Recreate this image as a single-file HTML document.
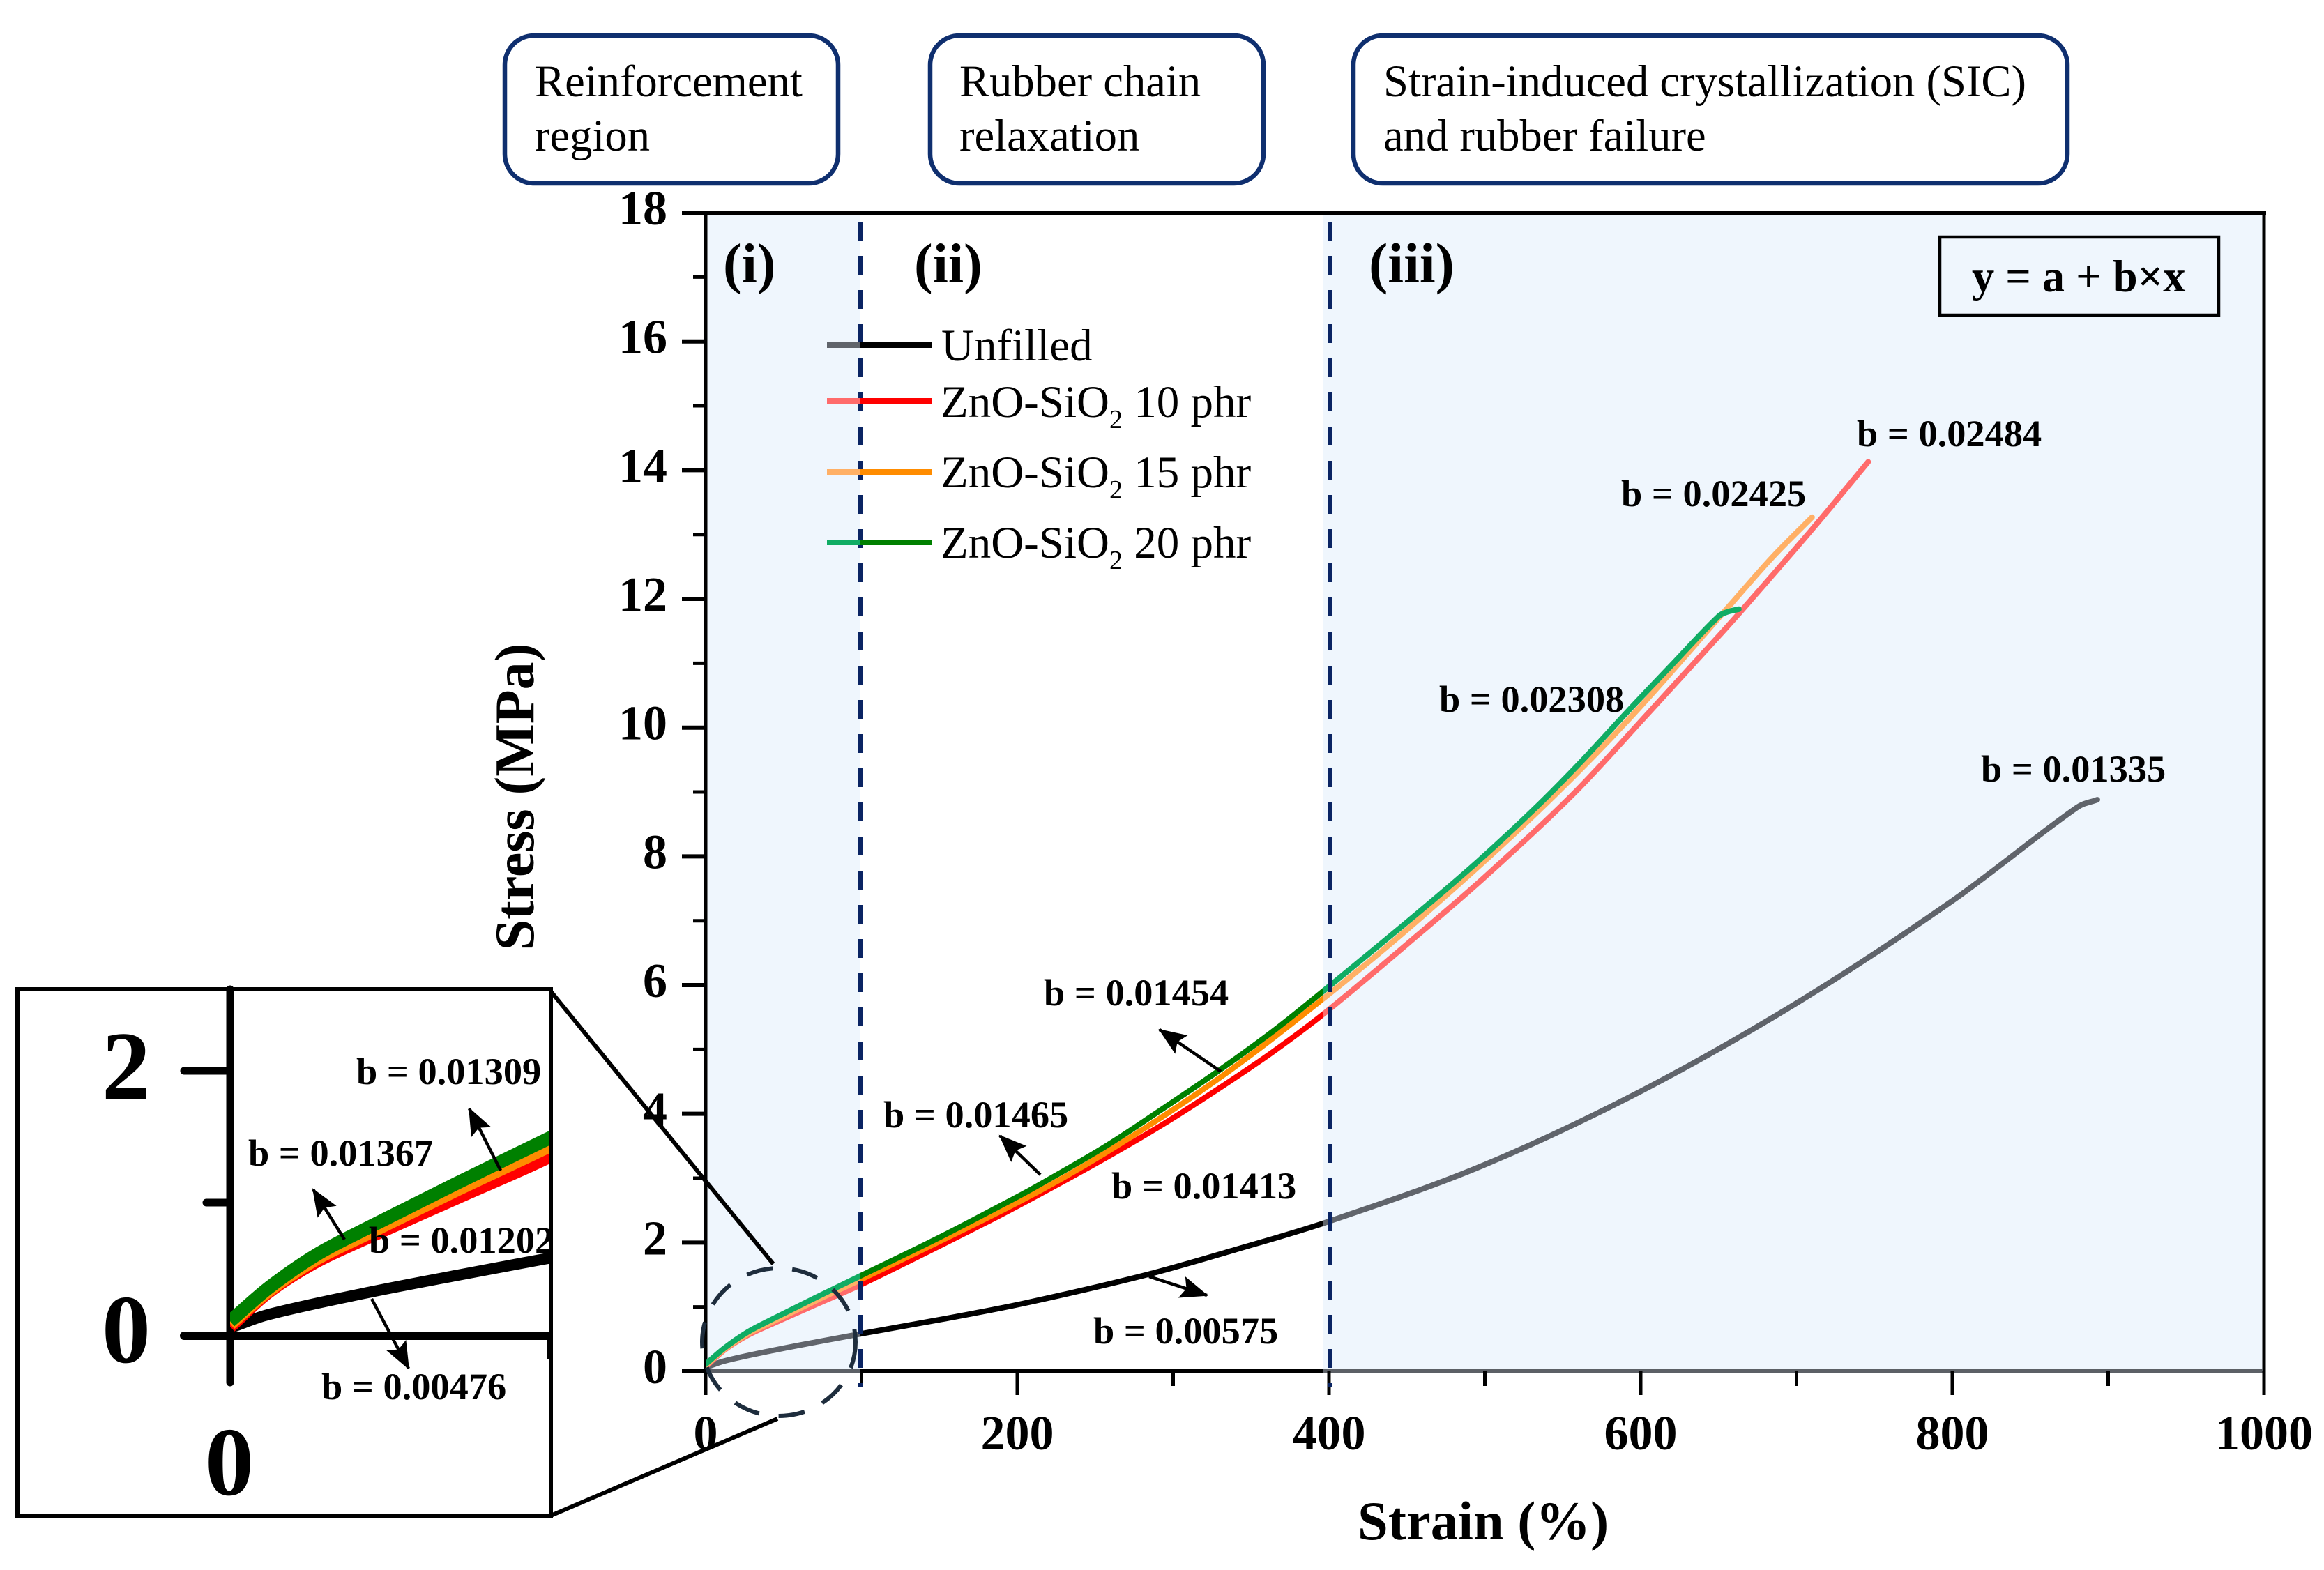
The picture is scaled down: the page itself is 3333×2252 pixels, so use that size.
<!DOCTYPE html>
<html lang="en">
<head>
<meta charset="utf-8">
<title>Stress-strain curves</title>
<style>
html,body{margin:0;padding:0;background:#fff;}
svg{display:block;}
text{font-family:"Liberation Serif",serif;fill:#000;}
.b{font-weight:bold;}
.ann{font-weight:bold;font-size:54.4px;}
.tick{font-weight:bold;font-size:70px;}
.box{fill:#fff;stroke:#0f2f6f;stroke-width:6.5;}
.box-text{font-size:64.6px;}
.leg{font-size:65px;}
</style>
</head>
<body>
<svg id="chart" width="3333" height="2252" viewBox="0 0 3333 2252" xmlns="http://www.w3.org/2000/svg">
<defs>
  <clipPath id="clip-bands"><rect x="1012" y="305" width="222" height="1662"/><rect x="1897" y="305" width="1350" height="1662"/></clipPath>
  <clipPath id="clip-white"><rect x="1234" y="305" width="663" height="1662"/></clipPath>
  <clipPath id="clip-inset"><rect x="330" y="1422" width="458" height="750"/></clipPath>
  <clipPath id="clip-inset-text"><rect x="28" y="1422" width="760" height="750"/></clipPath>
  <marker id="arrowhead" markerUnits="userSpaceOnUse" markerWidth="40" markerHeight="32" refX="38" refY="16" orient="auto"><path d="M0 0 L40 16 L0 32 L7 16 Z" fill="#000"/></marker>
</defs>

<rect x="0" y="0" width="3333" height="2252" fill="#fff"/>

<g>
  <rect class="box" x="724" y="51" width="478" height="212" rx="42"/>
  <text class="box-text" x="767" y="138">Reinforcement</text>
  <text class="box-text" x="767" y="216">region</text>
  <rect class="box" x="1334" y="51" width="478" height="212" rx="42"/>
  <text class="box-text" x="1376" y="138">Rubber chain</text>
  <text class="box-text" x="1376" y="216">relaxation</text>
  <rect class="box" x="1941" y="51" width="1024" height="212" rx="42"/>
  <text class="box-text" x="1984" y="138">Strain-induced crystallization (SIC)</text>
  <text class="box-text" x="1984" y="216">and rubber failure</text>
</g>

<g>
  <rect x="1012" y="305" width="222" height="1662" fill="#eff6fd"/>
  <rect x="1897" y="305" width="1350" height="1662" fill="#eff6fd"/>
</g>

<g id="axis-layer"></g>
<g id="series-layer"></g>

<g>
  <line x1="1234" y1="318" x2="1234" y2="1990" stroke="#0a2463" stroke-width="6" stroke-dasharray="27 22"/>
  <line x1="1907" y1="318" x2="1907" y2="1990" stroke="#0a2463" stroke-width="6" stroke-dasharray="27 22"/>
</g>

<text class="b" font-size="80" x="1037" y="405">(i)</text>
<text class="b" font-size="80" x="1311" y="405">(ii)</text>
<text class="b" font-size="82" x="1963" y="405">(iii)</text>

<g>
  <rect x="2782" y="340" width="400" height="112" fill="none" stroke="#000" stroke-width="4.5"/>
  <text class="b" font-size="64.3" x="2828" y="418">y = a + b×x</text>
</g>

<g>
  <g>
    <line x1="1186" y1="495" x2="1234" y2="495" stroke="#60646b" stroke-width="8"/>
    <line x1="1234" y1="495" x2="1336" y2="495" stroke="#000" stroke-width="8"/>
    <text class="leg" x="1350" y="517">Unfilled</text>
  </g>
  <g>
    <line x1="1186" y1="575" x2="1234" y2="575" stroke="#ff6b6b" stroke-width="8"/>
    <line x1="1234" y1="575" x2="1336" y2="575" stroke="#f00" stroke-width="8"/>
    <text class="leg" x="1349" y="598">ZnO-SiO<tspan font-size="38" dy="16">2</tspan><tspan dy="-16"> 10 phr</tspan></text>
  </g>
  <g>
    <line x1="1186" y1="677" x2="1234" y2="677" stroke="#ffb066" stroke-width="8"/>
    <line x1="1234" y1="677" x2="1336" y2="677" stroke="#ff8c00" stroke-width="8"/>
    <text class="leg" x="1349" y="699">ZnO-SiO<tspan font-size="38" dy="16">2</tspan><tspan dy="-16"> 15 phr</tspan></text>
  </g>
  <g>
    <line x1="1186" y1="778" x2="1234" y2="778" stroke="#10ac64" stroke-width="8"/>
    <line x1="1234" y1="778" x2="1336" y2="778" stroke="#008000" stroke-width="8"/>
    <text class="leg" x="1349" y="800">ZnO-SiO<tspan font-size="38" dy="16">2</tspan><tspan dy="-16"> 20 phr</tspan></text>
  </g>
</g>

<text class="b" font-size="78.6" x="1947" y="2208">Strain (%)</text>
<text class="b" font-size="80" transform="translate(765 1143) rotate(-90)" text-anchor="middle">Stress (MPa)</text>

<g>
  <text class="ann" x="2663" y="640">b = 0.02484</text>
  <text class="ann" x="2325" y="726">b = 0.02425</text>
  <text class="ann" x="2064" y="1021">b = 0.02308</text>
  <text class="ann" x="2841" y="1121">b = 0.01335</text>
  <text class="ann" x="1497" y="1442">b = 0.01454</text>
  <text class="ann" x="1267" y="1617">b = 0.01465</text>
  <text class="ann" x="1594" y="1719">b = 0.01413</text>
  <text class="ann" x="1568" y="1927">b = 0.00575</text>
  <line x1="1751" y1="1537" x2="1663" y2="1477" stroke="#000" stroke-width="4.5" marker-end="url(#arrowhead)"/>
  <line x1="1492" y1="1685" x2="1434" y2="1629" stroke="#000" stroke-width="4.5" marker-end="url(#arrowhead)"/>
  <line x1="1648" y1="1831" x2="1731" y2="1858" stroke="#000" stroke-width="4.5" marker-end="url(#arrowhead)"/>
</g>

<ellipse cx="1117" cy="1925" rx="110" ry="106" fill="none" stroke="#1e2d3d" stroke-width="6" stroke-dasharray="38 28"/>
<line x1="790" y1="1422" x2="1109" y2="1813" stroke="#000" stroke-width="6"/>
<line x1="790" y1="2174" x2="1115" y2="2035" stroke="#000" stroke-width="6"/>

<g>
  <rect x="25" y="1419" width="765" height="755" fill="#fff" stroke="#000" stroke-width="6"/>
  <line x1="330" y1="1419" x2="330" y2="1983" stroke="#000" stroke-width="11" stroke-linecap="round"/>
  <line x1="264" y1="1916" x2="787" y2="1916" stroke="#000" stroke-width="12" stroke-linecap="round"/>
  <line x1="264" y1="1536" x2="330" y2="1536" stroke="#000" stroke-width="11" stroke-linecap="round"/>
  <line x1="296" y1="1725" x2="330" y2="1725" stroke="#000" stroke-width="11" stroke-linecap="round"/>
  <line x1="787" y1="1916" x2="787" y2="1950" stroke="#000" stroke-width="6"/>
  <text class="b" font-size="140" x="146" y="1576">2</text>
  <text class="b" font-size="140" x="146" y="1954">0</text>
  <text class="b" font-size="140" x="329" y="2144" text-anchor="middle">0</text>
  <g id="inset-series-layer" clip-path="url(#clip-inset)"></g>
  <g clip-path="url(#clip-inset-text)">
    <text class="ann" x="511" y="1555">b = 0.01309</text>
    <text class="ann" x="356" y="1672">b = 0.01367</text>
    <text class="ann" x="529" y="1797">b = 0.01202</text>
    <text class="ann" x="461" y="2007">b = 0.00476</text>
    <line x1="718" y1="1679" x2="673" y2="1590" stroke="#000" stroke-width="4.5" marker-end="url(#arrowhead)"/>
    <line x1="494" y1="1778" x2="449" y2="1706" stroke="#000" stroke-width="4.5" marker-end="url(#arrowhead)"/>
    <line x1="533" y1="1863" x2="586" y2="1963" stroke="#000" stroke-width="4.5" marker-end="url(#arrowhead)"/>
  </g>
</g>

<script>
// ---- chart data ----
const yMajorTicks = [0, 2, 4, 6, 8, 10, 12, 14, 16, 18];
const yMinorTicks = [1, 3, 5, 7, 9, 11, 13, 15, 17];
const xMajorTicks = [0, 200, 400, 600, 800, 1000];
const xMinorTicks = [100, 300, 500, 700, 900];

const unfilledStrain = [0, 12, 42, 71, 100, 152, 205, 283, 340, 400, 499, 600, 700, 800, 880, 893];
const unfilledStress = [0.06, 0.16, 0.32, 0.455, 0.585, 0.81, 1.06, 1.5, 1.89, 2.33, 3.2, 4.35, 5.72, 7.31, 8.76, 8.88];

const phr10Strain = [0, 12, 27, 43, 71, 100, 179, 215, 257, 295, 331, 365, 400, 460, 500, 556, 604, 650, 663, 710, 746];
const phr10Stress = [0.07, 0.33, 0.56, 0.74, 1.04, 1.35, 2.3, 2.76, 3.32, 3.86, 4.42, 4.98, 5.62, 6.84, 7.68, 8.95, 10.2, 11.42, 11.77, 13.08, 14.13];

const phr15Strain = [0, 12, 27, 43, 71, 100, 200, 257, 331, 400, 460, 532, 592, 659, 685, 710];
const phr15Stress = [0.09, 0.34, 0.58, 0.77, 1.1, 1.43, 2.62, 3.4, 4.58, 5.86, 7.07, 8.65, 10.12, 11.95, 12.66, 13.27];

const phr20Strain = [0, 12, 27, 42, 71, 100, 150, 200, 215, 257, 297, 331, 365, 400, 460, 496, 532, 561, 592, 621, 650, 656, 663];
const phr20Stress = [0.11, 0.36, 0.61, 0.8, 1.15, 1.49, 2.08, 2.71, 2.91, 3.5, 4.14, 4.7, 5.3, 5.98, 7.18, 7.93, 8.74, 9.45, 10.26, 11.0, 11.73, 11.8, 11.84];

const seriesOrder = ['phr10', 'phr15', 'phr20'];

// ---- axis functions ----
const xMain = v => 1012 + v * 2.235;
const yMain = v => 1967 - v * 92.33;
const xInset = v => 330 + v * 4.57;
const yInset = v => 1916 - v * 190;

const SVGNS = 'http://www.w3.org/2000/svg';
function mk(tag, attrs, parent) {
  const el = document.createElementNS(SVGNS, tag);
  for (const k in attrs) el.setAttribute(k, attrs[k]);
  parent.appendChild(el);
  return el;
}
function smoothPath(xs, ys, fx, fy) {
  const p = xs.map((x, i) => [fx(x), fy(ys[i])]);
  let d = 'M' + p[0][0].toFixed(1) + ' ' + p[0][1].toFixed(1);
  for (let i = 0; i < p.length - 1; i++) {
    const p0 = p[Math.max(i - 1, 0)], p1 = p[i], p2 = p[i + 1], p3 = p[Math.min(i + 2, p.length - 1)];
    const k = (p2[0] - p1[0]) / 3;
    const s1 = (p2[1] - p0[1]) / ((p2[0] - p0[0]) || 1);
    const s2 = (p3[1] - p1[1]) / ((p3[0] - p1[0]) || 1);
    d += ' C' + (p1[0] + k).toFixed(1) + ' ' + (p1[1] + s1 * k).toFixed(1) + ' ' +
         (p2[0] - k).toFixed(1) + ' ' + (p2[1] - s2 * k).toFixed(1) + ' ' +
         p2[0].toFixed(1) + ' ' + p2[1].toFixed(1);
  }
  return d;
}

const axisLayer = document.getElementById('axis-layer');
const seriesLayer = document.getElementById('series-layer');
const insetLayer = document.getElementById('inset-series-layer');

// spines
const spineTop = mk('line', {x1: 978, y1: 305, x2: 3250, y2: 305, stroke: '#000', 'stroke-width': 6}, axisLayer);


const spineLeft = mk('line', {x1: 1012, y1: 305, x2: 1012, y2: 2001, stroke: '#000', 'stroke-width': 5}, axisLayer);


const spineRight = mk('line', {x1: 3247, y1: 305, x2: 3247, y2: 2001, stroke: '#000', 'stroke-width': 5}, axisLayer);


const spineBottom = mk('line', {x1: 978, y1: 1967, x2: 3247, y2: 1967, stroke: '#000', 'stroke-width': 6}, axisLayer);


const spineBottomA = mk('line', {x1: 1015, y1: 1967, x2: 1234, y2: 1967, stroke: '#5c6066', 'stroke-width': 6}, axisLayer);


const spineBottomB = mk('line', {x1: 1897, y1: 1967, x2: 3245, y2: 1967, stroke: '#5c6066', 'stroke-width': 6}, axisLayer);



// y ticks
yMajorTicks.forEach(v => {
  const t = mk('line', {x1: 978, x2: 1012, y1: yMain(v), y2: yMain(v), stroke: '#000', 'stroke-width': 6}, axisLayer);
  
  
  const l = mk('text', {x: 957, y: yMain(v) + 17, 'text-anchor': 'end', class: 'tick'}, axisLayer);
  l.textContent = String(v);
  
  
});
yMinorTicks.forEach(v => {
  const t = mk('line', {x1: 994, x2: 1012, y1: yMain(v), y2: yMain(v), stroke: '#000', 'stroke-width': 5}, axisLayer);
  
  
});
// x ticks
xMajorTicks.forEach(v => {
  const t = mk('line', {x1: xMain(v), x2: xMain(v), y1: 1967, y2: 2001, stroke: '#000', 'stroke-width': 5}, axisLayer);
  
  
  const l = mk('text', {x: xMain(v), y: 2079, 'text-anchor': 'middle', class: 'tick'}, axisLayer);
  l.textContent = String(v);
  
  
});
xMinorTicks.forEach(v => {
  const t = mk('line', {x1: xMain(v), x2: xMain(v), y1: 1967, y2: 1988, stroke: '#000', 'stroke-width': 5}, axisLayer);
  
  
});

// series: dark where the background is white, lighter over the shaded regions
function drawMain(xs, ys, dark, light) {
  const a = mk('path', {d: smoothPath(xs, ys, xMain, yMain), fill: 'none', stroke: dark, 'stroke-width': 8, 'stroke-linecap': 'round', 'stroke-linejoin': 'round', 'clip-path': 'url(#clip-white)'}, seriesLayer);
  
  
  const b = mk('path', {d: smoothPath(xs, ys, xMain, yMain), fill: 'none', stroke: light, 'stroke-width': 8, 'stroke-linecap': 'round', 'stroke-linejoin': 'round', 'clip-path': 'url(#clip-bands)'}, seriesLayer);
  
  
}
function drawInset(xs, ys, color, width) {
  const a = mk('path', {d: smoothPath(xs, ys, xInset, yInset), fill: 'none', stroke: color, 'stroke-width': width, 'stroke-linejoin': 'round'}, insetLayer);
  
  
}
const bySeries = {
  phr10: [phr10Strain, phr10Stress, '#ff0000', '#ff6b6b'],
  phr15: [phr15Strain, phr15Stress, '#ff8c00', '#ffb066'],
  phr20: [phr20Strain, phr20Stress, '#008000', '#10ac64']
};
drawMain(unfilledStrain, unfilledStress, '#000000', '#60646b');
seriesOrder.forEach(k => drawMain(bySeries[k][0], bySeries[k][1], bySeries[k][2], bySeries[k][3]));
drawInset(unfilledStrain, unfilledStress, '#000000', 16);
seriesOrder.forEach(k => drawInset(bySeries[k][0], bySeries[k][1], bySeries[k][2], 19));
</script>
</svg>
</body>
</html>
